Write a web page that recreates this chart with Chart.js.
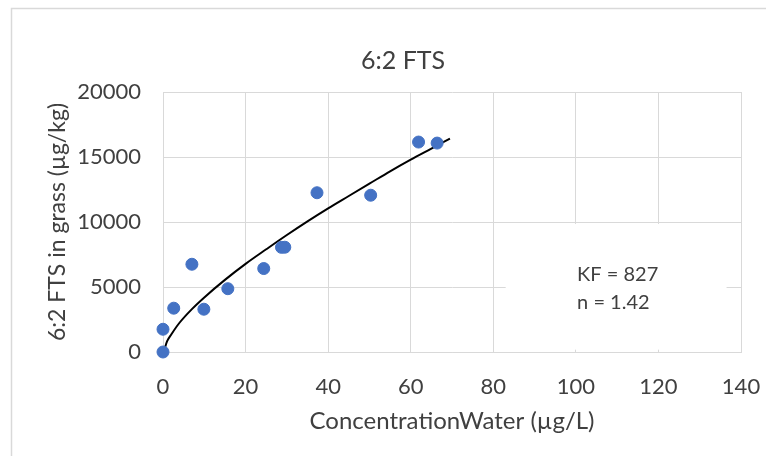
<!DOCTYPE html>
<html>
<head>
<meta charset="utf-8">
<script src="https://cdn.jsdelivr.net/npm/chart.js@4"></script>
<style>
  html, body { margin: 0; padding: 0; background: #fff; }
  #grafico { display: block; }
</style>
</head>
<body>
<canvas id="grafico" width="766" height="456"></canvas>
<script>
// Pontos medidos (água x grama)
var concAgua = [0, 0, 2.6, 7.0, 9.9, 15.7, 24.4, 28.7, 29.5, 37.3, 50.3, 61.9, 66.4];
var concGrama = [0, 1750, 3370, 6750, 3290, 4870, 6420, 8050, 8060, 12250, 12060, 16150, 16070];

// Curva ajustada (Freundlich)
var curvaX = [0.3, 1, 2, 4, 7, 10, 15, 20, 25, 30, 35, 40, 45, 50, 55, 60, 65, 69.5];
var curvaY = [150, 830, 1350, 2250, 3300, 4200, 5550, 6780, 7900, 9000, 10050, 11050, 12000, 12950, 13900, 14800, 15650, 16420];

var ticksX = [0, 20, 40, 60, 80, 100, 120, 140];
var ticksY = [0, 5000, 10000, 15000, 20000];

var textoCaixa = ['KF = 827', 'n = 1.42'];

var corTexto = '#404040';
var corGrade = '#d9d9d9';
var fonte = 'Lato, "Open Sans", sans-serif';

function juntar(xs, ys) {
    var out = [];
    for (var i = 0; i < xs.length; i++) out.push({ x: xs[i], y: ys[i] });
    return out;
}

// moldura externa e fundo branco
var moldura = {
    id: 'moldura',
    beforeDraw: function (chart) {
        var ctx = chart.ctx;
        ctx.save();
        ctx.fillStyle = '#fff';
        ctx.fillRect(0, 0, chart.width, chart.height);
        ctx.strokeStyle = '#d9d9d9';
        ctx.lineWidth = 1.5;
        ctx.strokeRect(11.5, 8.5, 900, 600);
        ctx.restore();
    }
};

// caixa de texto com KF e n (cobre a grade)
var caixa = {
    id: 'caixa',
    beforeDatasetsDraw: function (chart) {
        var ctx = chart.ctx;
        var sx = chart.scales.x, sy = chart.scales.y;
        var x0 = sx.getPixelForValue(83), x1 = sx.getPixelForValue(136.5);
        var y0 = sy.getPixelForValue(9850), y1 = sy.getPixelForValue(180);
        ctx.save();
        ctx.fillStyle = '#fff';
        ctx.fillRect(x0, y0, x1 - x0, y1 - y0);
        ctx.fillStyle = corTexto;
        ctx.font = '20px ' + fonte;
        ctx.textAlign = 'left';
        ctx.textBaseline = 'middle';
        var tx = sx.getPixelForValue(100.3);
        ctx.fillText(textoCaixa[0], tx, sy.getPixelForValue(5950));
        ctx.fillText(textoCaixa[1], tx, sy.getPixelForValue(3800));
        ctx.restore();
    }
};

var ctx = document.getElementById('grafico').getContext('2d');
var grafico = new Chart(ctx, {
    type: 'scatter',
    data: {
        datasets: [{
            label: 'Curva',
            data: juntar(curvaX, curvaY),
            showLine: true,
            borderColor: '#000',
            borderWidth: 2,
            pointRadius: 0,
            cubicInterpolationMode: 'monotone',
            order: 2
        }, {
            label: '6:2 FTS',
            data: juntar(concAgua, concGrama),
            backgroundColor: '#4472C4',
            borderColor: '#4472C4',
            pointRadius: 6,
            clip: false,
            order: 1
        }]
    },
    options: {
        responsive: false,
        animation: false,
        layout: { padding: { top: 30, left: 40, right: 0, bottom: 18 } },
        plugins: {
            legend: { display: false },
            tooltip: { enabled: false },
            title: {
                display: true,
                text: '6:2 FTS',
                color: corTexto,
                font: { family: fonte, size: 25, weight: 'normal' },
                padding: { top: 16, bottom: 16 }
            }
        },
        scales: {
            x: {
                type: 'linear',
                min: 0,
                max: 140,
                afterBuildTicks: function (s) { s.ticks = ticksX.map(function (v) { return { value: v }; }); },
                afterFit: function (s) { s.height = 86; s.paddingRight = 25; s.paddingLeft = 0; },
                grid: { color: corGrade, drawTicks: false },
                border: { color: corGrade },
                ticks: { color: corTexto, font: { family: fonte, size: 22 }, padding: 22 },
                title: {
                    display: true,
                    text: 'ConcentrationWater (µg/L)',
                    color: corTexto,
                    font: { family: fonte, size: 24 },
                    padding: { top: 4, bottom: 2 }
                }
            },
            y: {
                type: 'linear',
                min: 0,
                max: 20000,
                afterBuildTicks: function (s) { s.ticks = ticksY.map(function (v) { return { value: v }; }); },
                afterFit: function (s) { s.width = 123; },
                grid: { color: corGrade, drawTicks: false },
                border: { color: corGrade },
                ticks: {
                    color: corTexto,
                    font: { family: fonte, size: 22 },
                    padding: 22,
                    callback: function (v) { return String(v); }
                },
                title: {
                    display: true,
                    text: '6:2 FTS in grass (µg/kg)',
                    color: corTexto,
                    font: { family: fonte, size: 23 },
                    padding: { top: 4 }
                }
            }
        }
    },
    plugins: [moldura, caixa]
});
</script>
</body>
</html>
